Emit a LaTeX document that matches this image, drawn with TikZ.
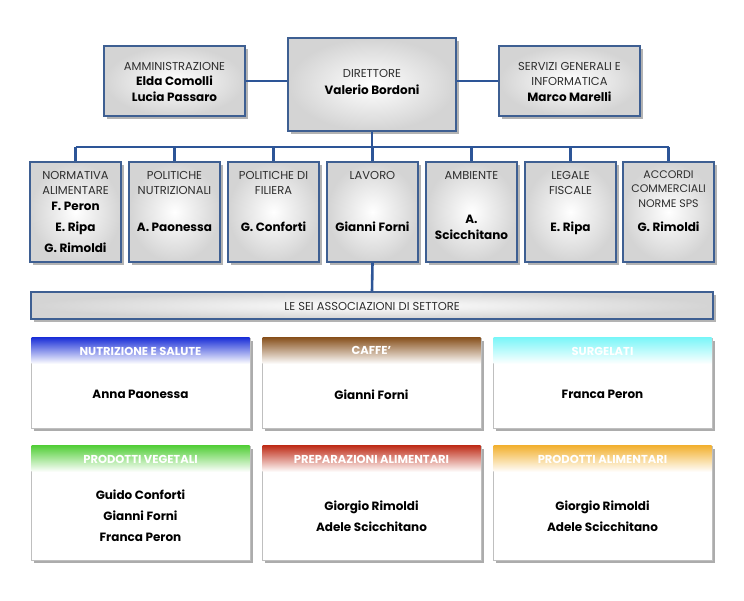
\documentclass[tikz,border=0pt]{standalone}
\usepackage{fontspec}
\setmainfont{Poppins}
\usetikzlibrary{shadows}
\definecolor{linkblue}{HTML}{2D5597}
\definecolor{boxblue}{HTML}{3E5F92}
\definecolor{titlegray}{HTML}{2E2E2E}
\definecolor{hblue}{HTML}{1F33D8}
\definecolor{hbrown}{HTML}{8A5421}
\definecolor{hcyan}{HTML}{7CF6F8}
\definecolor{hgreen}{HTML}{55CF3B}
\definecolor{hred}{HTML}{C0301C}
\definecolor{hyellow}{HTML}{F2B233}

\begin{document}
\begin{tikzpicture}[x=1pt,y=-1pt,
    conn/.style={linkblue, line width=2.6pt},
    box/.style={draw=boxblue, line width=1.3pt, inner color=white, outer color=black!17,
      drop shadow={shadow xshift=2.5pt, shadow yshift=-2.5pt, opacity=0.6},
      minimum width=#1, inner sep=0pt},
    card/.style={draw=black!25, line width=0.6pt, fill=white,
      drop shadow={shadow xshift=2.5pt, shadow yshift=-2.5pt, opacity=0.65},
      minimum width=219pt, inner sep=0pt},
    head/.style={top color=#1, middle color=#1, bottom color=white, minimum width=218pt,
      minimum height=26pt, anchor=north, inner sep=0pt, text=white,
      font=\bfseries\fontsize{11.5}{13}\selectfont, text depth=0pt},
    ttl/.style={text=titlegray, font=\fontsize{11.5}{15}\selectfont, align=center, inner sep=0pt},
    nm/.style={font=\bfseries\fontsize{12}{16}\selectfont, align=center, inner sep=0pt}]
  \useasboundingbox (0,0) rectangle (744,600);
  % top row
  \node[box=168pt, minimum height=93pt] (dir) at (372,84.5) {};
  \node[box=141pt, minimum height=70pt] (amm) at (174.5,81) {};
  \node[box=141pt, minimum height=70pt] (serv) at (569.5,81) {};
  \node[ttl] (dir-t) at (372,73) {DIRETTORE};
  \node[nm] (dir-n) at (372,90) {Valerio Bordoni};
  \node[ttl] (amm-t) at (174.5,66) {AMMINISTRAZIONE};
  \node[nm] (amm-n) at (174.5,89) {Elda Comolli\\Lucia Passaro};
  \node[ttl] (serv-t) at (569.5,73.5) {SERVIZI GENERALI E\\INFORMATICA};
  \node[nm] (serv-n) at (569.5,97) {Marco Marelli};
  \draw[conn] (amm.east) -- (amm.east -| dir.west); % amministrazione
  \draw[conn] (serv.west) -- (serv.west -| dir.east); % servizi
  % second row
  \node[box=91pt, minimum height=100pt] (norm) at (75.5,212) {};
  \node[box=91pt, minimum height=100pt] (nutr) at (174.5,212) {};
  \node[box=91pt, minimum height=100pt] (fil) at (273.5,212) {};
  \node[box=91pt, minimum height=100pt] (lav) at (372.5,212) {};
  \node[box=91pt, minimum height=100pt] (amb) at (471.5,212) {};
  \node[box=91pt, minimum height=100pt] (leg) at (570.5,212) {};
  \node[box=91pt, minimum height=100pt] (acc) at (668.5,212) {};
  \node[ttl] (norm-t) at (75.5,182.5) {NORMATIVA\\ALIMENTARE};
  \node[nm, font=\bfseries\fontsize{12}{21}\selectfont] (norm-n) at (75.5,227) {F. Peron\\E. Ripa\\G. Rimoldi};
  \node[ttl] (nutr-t) at (174.5,182.5) {POLITICHE\\NUTRIZIONALI};
  \node[nm] (nutr-n) at (174.5,227) {A. Paonessa};
  \node[ttl] (fil-t) at (273.5,182.5) {POLITICHE DI\\FILIERA};
  \node[nm] (fil-n) at (273.5,227) {G. Conforti};
  \node[ttl] (lav-t) at (372.5,175) {LAVORO};
  \node[nm] (lav-n) at (372.5,227) {Gianni Forni};
  \node[ttl] (amb-t) at (471.5,175) {AMBIENTE};
  \node[nm] (amb-n) at (471.5,227) {A.\\Scicchitano};
  \node[ttl] (leg-t) at (570.5,182.5) {LEGALE\\FISCALE};
  \node[nm] (leg-n) at (570.5,228) {E. Ripa};
  \node[ttl, font=\fontsize{11}{14.5}\selectfont] (acc-t) at (668.5,189) {ACCORDI\\COMMERCIALI\\NORME SPS};
  \node[nm] (acc-n) at (668.5,227) {G. Rimoldi};
  % bus from the director
  \coordinate (bus) at (372,147);
  \draw[conn] (dir.south) -- (bus);
  \draw[conn] (norm.north |- bus) -- (acc.north |- bus); % bus
  \draw[conn] (norm.north |- bus) -- (norm.north);
  \draw[conn] (nutr.north |- bus) -- (nutr.north);
  \draw[conn] (fil.north |- bus) -- (fil.north);
  \draw[conn] (lav.north |- bus) -- (lav.north);
  \draw[conn] (amb.north |- bus) -- (amb.north);
  \draw[conn] (leg.north |- bus) -- (leg.north);
  \draw[conn] (acc.north |- bus) -- (acc.north);
  % associations bar
  \node[box=682pt, minimum height=27pt] (assoc) at (372,305.5) {};
  \node[ttl] (assoc-t) at (372,306) {LE SEI ASSOCIAZIONI DI SETTORE};
  \draw[conn] (lav.south) -- (assoc.north);
  % association cards
  \node[card, minimum height=90pt] (nut) at (140.5,383) {};
  \node[card, minimum height=90pt] (caf) at (371.5,383) {};
  \node[card, minimum height=90pt] (sur) at (602.5,383) {};
  \node[card, minimum height=114pt] (veg) at (140.5,503) {};
  \node[card, minimum height=114pt] (prep) at (371.5,503) {};
  \node[card, minimum height=114pt] (prod) at (602.5,503) {};
  \node[head=hblue] (nut-h) at (nut.north) {NUTRIZIONE E SALUTE};
  \node[head=hbrown] (caf-h) at (caf.north) {CAFFE'};
  \node[head=hcyan] (sur-h) at (sur.north) {SURGELATI};
  \node[head=hgreen] (veg-h) at (veg.north) {PRODOTTI VEGETALI};
  \node[head=hred] (prep-h) at (prep.north) {PREPARAZIONI ALIMENTARI};
  \node[head=hyellow] (prod-h) at (prod.north) {PRODOTTI ALIMENTARI};
  \node[nm] (nut-n) at (140.5,394) {Anna Paonessa};
  \node[nm] (caf-n) at (371.5,395) {Gianni Forni};
  \node[nm] (sur-n) at (602.5,394) {Franca Peron};
  \node[nm, font=\bfseries\fontsize{12}{21}\selectfont] (veg-n) at (140.5,516) {Guido Conforti\\Gianni Forni\\Franca Peron};
  \node[nm, font=\bfseries\fontsize{12}{21}\selectfont] (prep-n) at (371.5,516.5) {Giorgio Rimoldi\\Adele Scicchitano};
  \node[nm, font=\bfseries\fontsize{12}{21}\selectfont] (prod-n) at (602.5,516.5) {Giorgio Rimoldi\\Adele Scicchitano};
\end{tikzpicture}
\end{document}
